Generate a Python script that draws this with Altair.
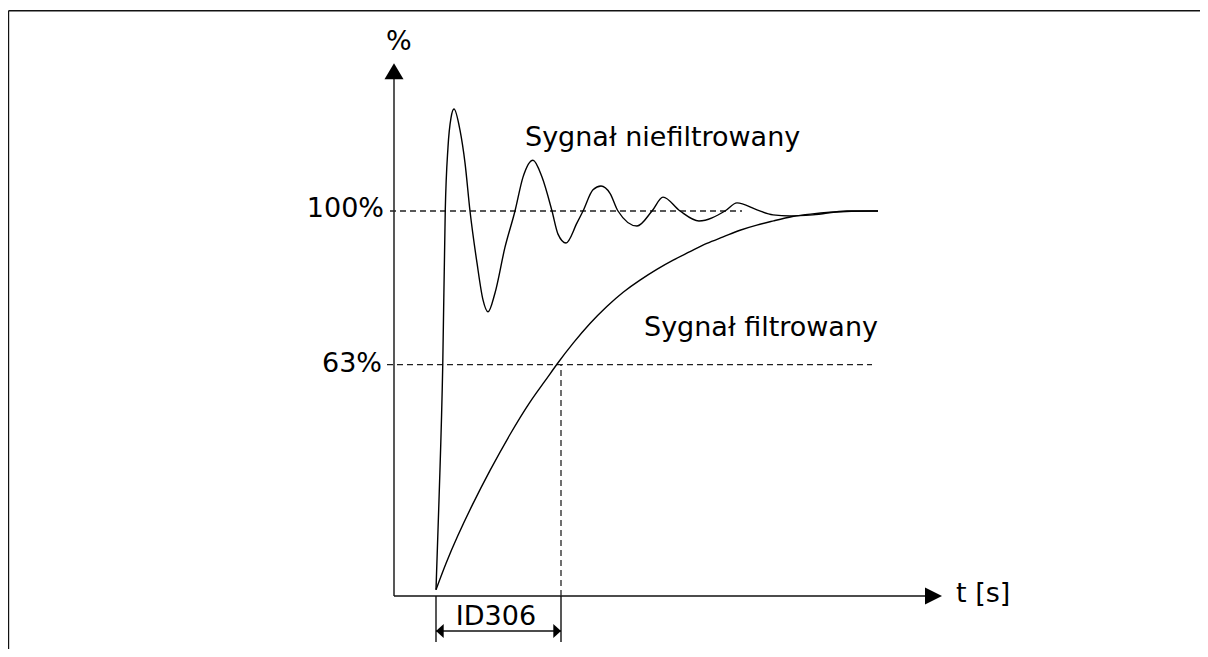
import altair as alt
import pandas as pd

# ---------------- data (t in filter time constants, value in %) ----------------
filt_t = [0.000, 0.080, 0.168, 0.288, 0.432, 0.592, 0.752, 0.872, 0.968, 1.096,
          1.232, 1.368, 1.496, 1.632, 1.768, 1.896, 2.032, 2.168, 2.296, 2.432,
          2.568, 2.696, 2.856, 2.992, 3.152, 3.312, 3.536]
filt_p = [1.6, 8.6, 15.3, 23.6, 32.7, 42.1, 50.6, 55.8, 60.3, 65.7,
          70.9, 75.3, 79.0, 82.1, 84.9, 87.3, 89.4, 91.7, 93.2, 95.1,
          96.4, 97.4, 98.7, 99.2, 99.7, 100.0, 100.0]

raw_t = [0.000, 0.024, 0.054, 0.074, 0.096, 0.120, 0.144, 0.192, 0.232, 0.272,
         0.328, 0.376, 0.416, 0.472, 0.552, 0.632, 0.696, 0.776, 0.848, 0.928,
         0.976, 1.040, 1.128, 1.176, 1.256, 1.320, 1.392, 1.456, 1.608, 1.728,
         1.816, 1.952, 2.104, 2.312, 2.408, 2.568, 2.696, 2.832, 3.016, 3.288,
         3.536]
raw_p = [1.6, 24.9, 60.0, 100.0, 116.6, 124.2, 126.5, 121.0, 112.5, 100.0,
         86.5, 76.9, 73.8, 78.7, 90.6, 100.0, 108.8, 113.2, 108.8, 100.0,
         94.0, 91.7, 96.9, 100.0, 105.5, 106.5, 104.6, 100.0, 96.1, 100.0,
         103.6, 100.0, 97.4, 100.0, 102.1, 100.3, 99.0, 98.7, 99.0, 100.0,
         100.0]

level_100 = 100.0
level_63 = 60.1          # drawn height of the "63%" guide
tau = 1.0                # ID306 filter time (one time constant)

# ---------------- layout ----------------
W, H = 1192, 641
PX_T, PX_P = 125.0, 3.85          # pixels per unit
T0_X, P0_Y = 436 - 8, 596 - 8     # plot-pixel position of (t=0, p=0)
x_domain = [-T0_X / PX_T, (W - T0_X) / PX_T]
y_domain = [(P0_Y - H) / PX_P, P0_Y / PX_P]
xs = alt.Scale(domain=x_domain, nice=False, zero=False)
ys = alt.Scale(domain=y_domain, nice=False, zero=False)

t_yaxis = -0.336
t_xend = 3.99
t_xtip = 4.048
p_ytip = 138.4
p_frame = 152.0
t_frame = -3.42
p_dim = -9.09
p_dim_low = -11.95

curves_f = pd.DataFrame({"t": filt_t, "p": filt_p})
curves_u = pd.DataFrame({"t": raw_t, "p": raw_p})

solid = pd.DataFrame([
    # axes
    dict(t=t_yaxis, t2=t_yaxis, p=0, p2=p_ytip - 3),
    dict(t=t_yaxis, t2=t_xend, p=0, p2=0),
    # frame
    dict(t=t_frame, t2=x_domain[1] + 1, p=p_frame, p2=p_frame),
    dict(t=t_frame, t2=t_frame, p=p_frame, p2=y_domain[0] - 1),
    # dimension lines
    dict(t=0, t2=0, p=0, p2=p_dim_low),
    dict(t=tau, t2=tau, p=0, p2=p_dim_low),
    dict(t=0, t2=tau, p=p_dim, p2=p_dim),
])

dashed = pd.DataFrame([
    dict(t=-0.368, t2=2.448, p=level_100, p2=level_100),
    dict(t=-0.392, t2=3.488, p=level_63, p2=level_63),
    dict(t=tau, t2=tau, p=0, p2=level_63),
])

texts_left = pd.DataFrame([
    dict(t=0.712, p=116.9, label="Sygnał niefiltrowany"),
    dict(t=1.664, p=67.5, label="Sygnał filtrowany"),
    dict(t=4.16, p=-1.6, label="t [s]"),
])
texts_right = pd.DataFrame([
    dict(t=-0.416, p=98.4, label="100%"),
    dict(t=-0.432, p=58.2, label="63%"),
])
texts_center = pd.DataFrame([
    dict(t=-0.298, p=141.8, label="%"),
    dict(t=0.48, p=-7.5, label="ID306"),
])


def X(f="t"):
    return alt.X(f + ":Q", scale=xs, axis=None)


def Y(f="p"):
    return alt.Y(f + ":Q", scale=ys, axis=None)


filt_layer = alt.Chart(curves_f).mark_line(
    interpolate="basis", color="black", strokeWidth=1.4
).encode(x=X(), y=Y())

raw_layer = alt.Chart(curves_u).mark_line(
    interpolate="monotone", color="black", strokeWidth=1.4
).encode(x=X(), y=Y())

solid_layer = alt.Chart(solid).mark_rule(color="#111", strokeWidth=1.4).encode(
    x=X(), x2="t2:Q", y=Y(), y2="p2:Q"
)

dashed_layer = alt.Chart(dashed).mark_rule(
    color="#222", strokeWidth=1.3, strokeDash=[6, 4]
).encode(x=X(), x2="t2:Q", y=Y(), y2="p2:Q")


def arrow(t, p, path, size):
    df = pd.DataFrame([dict(t=t, p=p)])
    return alt.Chart(df).mark_point(
        shape=path, filled=True, color="black", opacity=1, size=size, strokeWidth=0
    ).encode(x=X(), y=Y())


arrows = [
    arrow(t_yaxis, p_ytip, "M0,0L-1,1.7L1,1.7Z", 361),
    arrow(t_xtip, 0, "M0,0L-2,-1L-2,1Z", 289),
    arrow(0, p_dim, "M0,0L1.1,-1L1.1,1Z", 196),
    arrow(tau, p_dim, "M0,0L-1.1,-1L-1.1,1Z", 196),
]


def text_layer(df, align):
    return alt.Chart(df).mark_text(
        font="DejaVu Sans", fontSize=27, color="black", align=align,
        baseline="alphabetic"
    ).encode(x=X(), y=Y(), text="label:N")


chart = alt.layer(
    solid_layer, dashed_layer, filt_layer, raw_layer, *arrows,
    text_layer(texts_left, "left"),
    text_layer(texts_right, "right"),
    text_layer(texts_center, "center"),
).properties(
    width=W, height=H, autosize="none", padding=0
).configure_view(stroke=None)

chart.save("out.html", embed_options={"renderer": "svg", "actions": False})
